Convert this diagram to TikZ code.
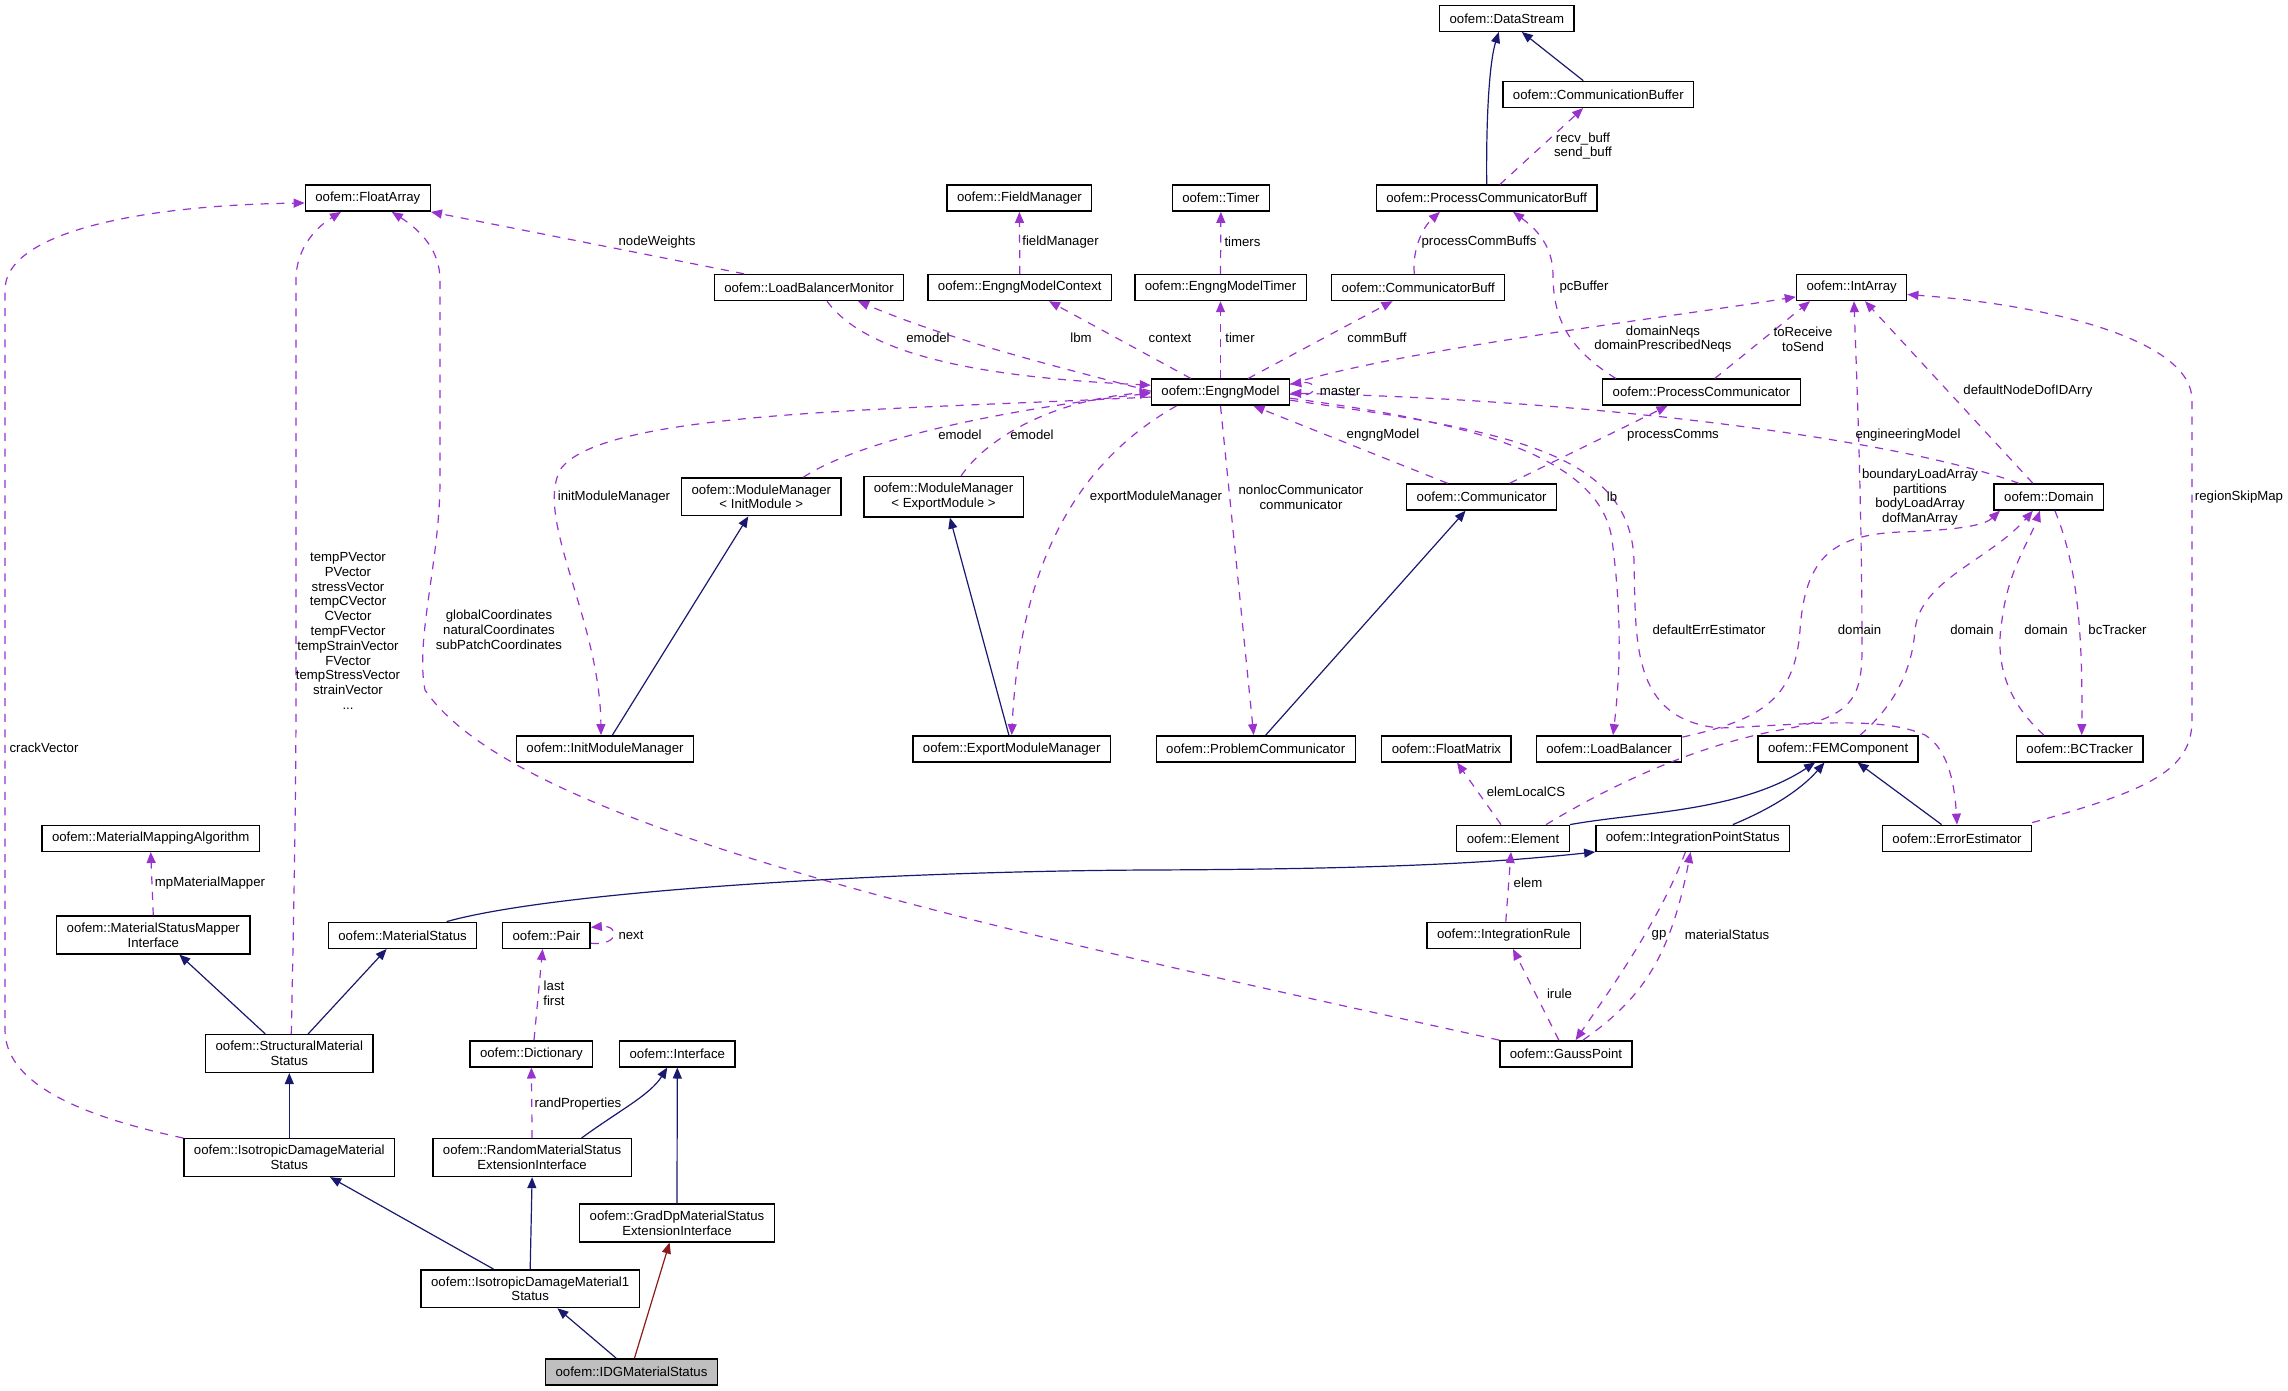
\documentclass[tikz,border=0pt]{standalone}
\usepackage{fontspec}
\setmainfont{Liberation Sans}
\usetikzlibrary{arrows.meta}
\definecolor{dxDep}{HTML}{9A32CD}
\definecolor{dxInh}{HTML}{191970}
\definecolor{dxPro}{HTML}{8B1A1A}
\definecolor{dxSel}{HTML}{BFBFBF}
\tikzset{
  cls/.style  = {draw=black, fill=white, line width=0.7pt, align=center,
                 font=\fontsize{6.6}{7.4}\selectfont, inner xsep=5pt,
                 inner ysep=3.3pt, minimum height=13pt},
  clsh/.style = {cls, fill=dxSel},
  lbl/.style  = {align=center, font=\fontsize{6.6}{7.4}\selectfont, inner sep=0pt},
  dep/.style  = {-{Triangle[length=5.5pt,width=4.5pt]}, draw=dxDep, line width=0.6pt,
                 dash pattern=on 4pt off 3.8pt},
  inh/.style  = {-{Triangle[length=5.5pt,width=4.5pt]}, draw=dxInh, line width=0.6pt},
  inhp/.style = {inh, draw=dxPro},
}

\begin{document}
\begin{tikzpicture}[x=0.5pt, y=-0.5pt]
  \useasboundingbox (0,0) rectangle (2288,1391);
  % classes, centred on the layout grid (pixels, y downwards)
  \foreach \n/\x/\y/\t in {
      ds/1506.8/18.3/{oofem::DataStream},
      cbuf/1598.3/94.4/{oofem::CommunicationBuffer},
      fa/367.8/198.2/{oofem::FloatArray},
      fm/1019.4/198.2/{oofem::FieldManager},
      tmr/1220.9/198.2/{oofem::Timer},
      pcb/1486.7/198.2/{oofem::ProcessCommunicatorBuff},
      lbm/809/287.5/{oofem::LoadBalancerMonitor},
      emc/1019.8/287.5/{oofem::EngngModelContext},
      emt/1220.5/287.5/{oofem::EngngModelTimer},
      cmb/1418.2/287.5/{oofem::CommunicatorBuff},
      ia/1851.6/287.5/{oofem::IntArray},
      em/1220.5/392.2/{oofem::EngngModel},
      pc/1701.5/392.2/{oofem::ProcessCommunicator},
      mmi/761.3/496.8/{oofem::ModuleManager\\< InitModule >},
      mme/943.5/496.8/{oofem::ModuleManager\\< ExportModule >},
      com/1481.6/497/{oofem::Communicator},
      dom/2048.9/497/{oofem::Domain},
      imm/605/748.8/{oofem::InitModuleManager},
      emm/1011.7/748.8/{oofem::ExportModuleManager},
      prc/1255.7/748.8/{oofem::ProblemCommunicator},
      fmx/1446.4/748.8/{oofem::FloatMatrix},
      lb/1609/748.8/{oofem::LoadBalancer},
      fem/1838.1/748.8/{oofem::FEMComponent},
      bct/2079.7/748.8/{oofem::BCTracker},
      mma/150.7/838.3/{oofem::MaterialMappingAlgorithm},
      el/1513/838.3/{oofem::Element},
      ips/1692.8/838.3/{oofem::IntegrationPointStatus},
      ee/1957/838.3/{oofem::ErrorEstimator},
      msmi/153.3/935/{oofem::MaterialStatusMapper\\Interface},
      ms/402.6/935.3/{oofem::MaterialStatus},
      pair/546.4/935.3/{oofem::Pair},
      ir/1503.8/935.3/{oofem::IntegrationRule},
      sms/289.3/1053.5/{oofem::StructuralMaterial\\Status},
      dict/531.4/1053.8/{oofem::Dictionary},
      intf/677.3/1053.8/{oofem::Interface},
      gp/1566/1053.8/{oofem::GaussPoint},
      idms/289.3/1157.6/{oofem::IsotropicDamageMaterial\\Status},
      rmsei/532.1/1157.6/{oofem::RandomMaterialStatus\\ExtensionInterface},
      gdp/677/1223/{oofem::GradDpMaterialStatus\\ExtensionInterface},
      idm1/530.2/1288.7/{oofem::IsotropicDamageMaterial1\\Status}}
    \node[cls] (\n) at (\x,\y) {\t};
  \node[clsh] (idg) at (631.5,1371.8) {oofem::IDGMaterialStatus};

  % inheritance
  \draw[inh] (pcb.north) .. controls (1486,110) and (1490,60) .. ([xshift=-4pt]ds.south);
  \draw[inh] ([xshift=-7.5pt]cbuf.north) -- ([xshift=7.5pt]ds.south);
  \draw[inh] ([xshift=3.7pt]imm.north) -- ([xshift=-6.5pt]mmi.south);
  \draw[inh] ([xshift=-1.4pt]emm.north) -- ([xshift=3.2pt]mme.south);
  \draw[inh] ([xshift=5pt]prc.north) -- ([xshift=-8pt]com.south);
  \draw[inh] ([xshift=22pt]ms.north) .. controls (560,890) and (900,871) .. (1150,870)
             .. controls (1400,869) and (1500,862) .. (ips.south west);
  \draw[inh] ([xshift=-12pt]sms.north) -- ([xshift=13pt]msmi.south);
  \draw[inh] ([xshift=9.4pt]sms.north) -- ([xshift=-8pt]ms.south);
  \draw[inh] (idms.north) -- (sms.south);
  \draw[inh] ([xshift=24.7pt]rmsei.north) .. controls (620,1110) and (650,1095) .. ([xshift=-5pt]intf.south);
  \draw[inh] (gdp.north) -- (intf.south);
  \draw[inh] ([xshift=-18.3pt]idm1.north) -- ([xshift=20.4pt]idms.south);
  \draw[inh] (idm1.north) -- (rmsei.south);
  \draw[inh] ([xshift=-7.7pt]idg.north) -- ([xshift=13.6pt]idm1.south);
  \draw[inhp] ([xshift=1.5pt]idg.north) -- ([xshift=-3.7pt]gdp.south);
  \draw[inh] (el.north east) .. controls (1640,812) and (1740,812) .. ([xshift=-11.5pt]fem.south);
  \draw[inh] ([xshift=20pt]ips.north) .. controls (1780,805) and (1805,785) .. ([xshift=-6.8pt]fem.south);
  \draw[inh] ([xshift=-7.7pt]ee.north) -- ([xshift=9.7pt]fem.south);

  % usage (member) relations
  \draw[dep] ([xshift=6.6pt]pcb.north) -- ([xshift=-7.6pt]cbuf.south);
  \draw[dep] (emc.north) -- (fm.south);
  \draw[dep] ([xshift=-32.5pt]lbm.north) -- (fa.south east);
  \draw[dep] (emt.north) -- (tmr.south);
  \draw[dep] ([xshift=-1.9pt]cmb.north) .. controls (1412,255) and (1420,230) .. ([xshift=-23.4pt]pcb.south);
  \draw[dep] ([xshift=-42.8pt]pc.north) .. controls (1570,350) and (1553,320) .. (1553,275)
             .. controls (1553,245) and (1535,228) .. ([xshift=13.2pt]pcb.south);
  \draw[dep] ([xshift=9pt]lbm.south) .. controls (870,360) and (1000,378) .. ([yshift=3.5pt]em.west);
  \draw[dep] ([yshift=0.5pt]em.west) .. controls (1050,365) and (950,340) .. ([xshift=24.5pt]lbm.south);
  \draw[dep] ([xshift=-14.8pt]em.north) -- ([xshift=14.6pt]emc.south);
  \draw[dep] (em.north) -- (emt.south);
  \draw[dep] ([xshift=13.8pt]em.north) -- ([xshift=-12.8pt]cmb.south);
  \draw[dep] ([yshift=4pt]em.east) .. controls (1400,350) and (1650,320) .. ([yshift=-4.7pt]ia.west);
  \draw[dep] ([xshift=6.6pt]pc.north) -- ([xshift=-20.8pt]ia.south);
  \draw[dep] ([yshift=-1pt]em.east) .. controls (1320,400) and (1320,380) .. ([yshift=4pt]em.east);
  \draw[dep] ([xshift=-8pt]dom.north) -- ([xshift=6.7pt]ia.south);
  \draw[dep] ([xshift=16.5pt]el.north) .. controls (1620,780) and (1700,745) .. (1780,730)
             .. controls (1850,718) and (1862,700) .. (1862,650)
             .. controls (1862,500) and (1856,360) .. ([xshift=1.2pt]ia.south);
  \draw[dep] ([yshift=-1pt]lb.north east) .. controls (1760,720) and (1795,700) .. (1800,630)
             .. controls (1805,560) and (1830,535) .. (1900,532)
             .. controls (1960,530) and (1985,525) .. ([xshift=-24.5pt]dom.south);
  \draw[dep] ([xshift=11pt]fem.north) .. controls (1895,705) and (1912,670) .. (1915,630)
             .. controls (1920,580) and (1990,560) .. ([xshift=-8pt]dom.south);
  \draw[dep] ([xshift=-17.9pt]bct.north) .. controls (2005,700) and (1995,660) .. (2002,620)
             .. controls (2008,570) and (2030,540) .. ([xshift=-4.5pt]dom.south);
  \draw[dep] ([xshift=3pt]dom.south) .. controls (2075,560) and (2083,620) .. ([xshift=1pt]bct.north);
  \draw[dep] ([xshift=-15pt]dom.north) .. controls (1900,440) and (1600,400) .. ([yshift=-0.5pt]em.east);
  \draw[dep] ([xshift=-17pt]com.north) -- ([xshift=16.5pt]em.south);
  \draw[dep] ([xshift=14pt]com.north) -- ([xshift=-17pt]pc.south);
  \draw[dep] ([yshift=-3pt]em.east) .. controls (1450,420) and (1600,450) .. (1612,540)
             .. controls (1620,600) and (1622,660) .. ([xshift=2pt]lb.north);
  \draw[dep] ([yshift=-4pt]em.east) .. controls (1500,430) and (1630,450) .. (1634,560)
             .. controls (1636,640) and (1630,720) .. (1720,728)
             .. controls (1800,725) and (1880,715) .. (1925,735)
             .. controls (1950,750) and (1955,790) .. (ee.north);
  \draw[dep] ([yshift=1pt]ee.north east) .. controls (2150,790) and (2192,770) .. (2192,720)
             -- (2192,400) .. controls (2192,340) and (2050,305) .. ([yshift=-3.5pt]ia.east);
  \draw[dep] (em.south) -- ([xshift=-1pt]prc.north);
  \draw[dep] ([xshift=-22pt]em.south) .. controls (1080,460) and (1020,560) .. (emm.north);
  \draw[dep] ([yshift=-2.4pt]em.west) .. controls (900,410) and (600,410) .. (560,470)
             .. controls (535,520) and (600,620) .. ([xshift=-2pt]imm.north);
  \draw[dep] ([xshift=21pt]mmi.north) .. controls (860,440) and (1000,410) .. ([yshift=-0.5pt]em.west);
  \draw[dep] ([xshift=8.8pt]mme.north) .. controls (985,440) and (1050,400) .. (em.west);
  \draw[dep] (idms.north west) .. controls (100,1120) and (5,1090) .. (5,1030) -- (5,290)
             .. controls (5,230) and (150,205) .. ([yshift=-2.4pt]fa.west);
  \draw[dep] ([xshift=1pt]sms.north) .. controls (294,900) and (296,800) .. (296,690) -- (296,280)
             .. controls (296,245) and (320,225) .. ([xshift=-13.4pt]fa.south);
  \draw[dep] (gp.north west) .. controls (1000,930) and (520,830) .. (425,690)
             .. controls (415,640) and (440,560) .. (440,480) -- (440,280)
             .. controls (440,250) and (420,230) .. ([xshift=12pt]fa.south);
  \draw[dep] (msmi.north) -- (mma.south);
  \draw[dep] ([yshift=-4pt]pair.east) .. controls (620,946) and (620,925) .. ([yshift=4pt]pair.east);
  \draw[dep] ([xshift=1.3pt]dict.north) -- ([xshift=-1.9pt]pair.south);
  \draw[dep] (rmsei.north) -- (dict.south);
  \draw[dep] ([xshift=-6pt]el.north) -- ([xshift=5.3pt]fmx.south);
  \draw[dep] ([xshift=1pt]ir.north) -- ([xshift=-1pt]el.south);
  \draw[dep] ([xshift=-3.6pt]gp.north) -- ([xshift=4.6pt]ir.south);
  \draw[dep] ([xshift=-3.7pt]ips.south) .. controls (1660,920) and (1610,990) .. ([xshift=4.8pt]gp.north);
  \draw[dep] ([xshift=8.5pt]gp.north) .. controls (1640,1000) and (1670,960) .. ([xshift=-1.1pt]ips.south);

  % member names
  \foreach \n/\x/\y/\t in {
      tRecv/1583/146/{recv\_buff\\send\_buff},
      tFieldMgr/1060.5/242/{fieldManager},
      tNodeW/657/242/{nodeWeights},
      tTimers/1242.5/242/{timers},
      tPcbs/1479/242/{processCommBuffs},
      tPcBuf/1584/287/{pcBuffer},
      tEmodelA/928/338/{emodel},
      tLbm/1081/338/{lbm},
      tContext/1170/338/{context},
      tTimer/1240/338/{timer},
      tCommBuf/1377/338/{commBuff},
      tNeqs/1663/339/{domainNeqs\\domainPrescribedNeqs},
      tRecvSend/1803/339/{toReceive\\toSend},
      tMaster/1340/391/{master},
      tDofId/2028/391/{defaultNodeDofIDArry},
      tEmodelB/960/435/{emodel},
      tEmodelC/1032/435/{emodel},
      tEngng/1383/435/{engngModel},
      tComms/1673/435/{processComms},
      tEngModel/1908/435/{engineeringModel},
      tInitMM/614/497/{initModuleManager},
      tExpMM/1156/497/{exportModuleManager},
      tNonloc/1301/497/{nonlocCommunicator\\communicator},
      tLb/1612/497/{lb},
      tElemArr/1920/497/{boundaryLoadArray\\partitions\\bodyLoadArray\\dofManArray},
      tSkip/2239/497/{regionSkipMap},
      tVectors/348/631/{tempPVector\\PVector\\stressVector\\tempCVector\\CVector\\tempFVector\\tempStrainVector\\FVector\\tempStressVector\\strainVector\\...},
      tCoords/499/630/{globalCoordinates\\naturalCoordinates\\subPatchCoordinates},
      tErrEst/1709/630/{defaultErrEstimator},
      tDomA/1859.5/630/{domain},
      tDomB/1972/630/{domain},
      tDomC/2046/630/{domain},
      tBc/2117.5/630/{bcTracker},
      tCrack/44/748/{crackVector},
      tLocalCS/1526/792/{elemLocalCS},
      tMapper/210/883/{mpMaterialMapper},
      tElem/1528/883/{elem},
      tNext/631/935/{next},
      tGp/1659/935/{gp},
      tMatStat/1727/935/{materialStatus},
      tLastFirst/554/993/{last\\first},
      tIrule/1559.5/993.6/{irule},
      tRand/578/1104.5/{randProperties}}
    \node[lbl] (\n) at (\x,\y) {\t};
\end{tikzpicture}
\end{document}
